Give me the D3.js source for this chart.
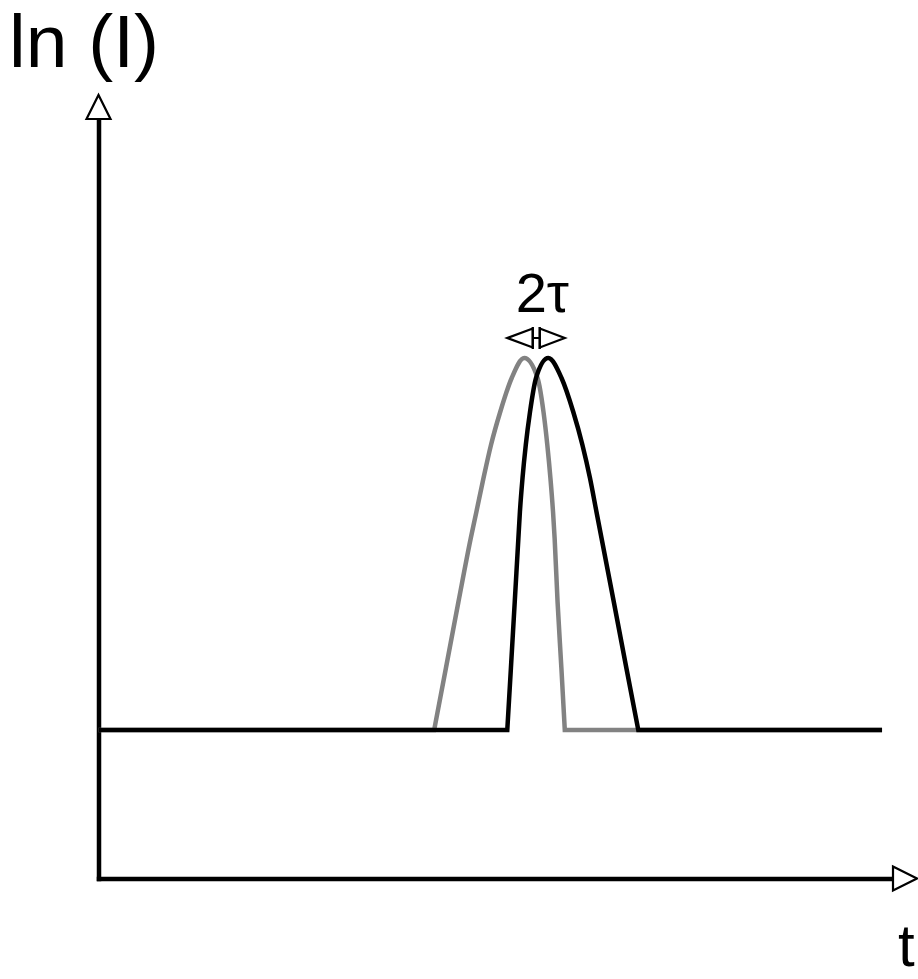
<!DOCTYPE html>
<html>
<head>
<meta charset="utf-8">
<script src="https://cdn.jsdelivr.net/npm/d3@7"></script>
<style>
  html, body { margin: 0; padding: 0; background: #ffffff; }
  svg { display: block; }
  text { font-family: "Liberation Sans", Arial, sans-serif; fill: #000; }
</style>
</head>
<body>
<svg id="chart" width="918" height="979"></svg>
<script>
// Signal level ln(I) against time t for two peaks separated by 2τ.
const baseLevel = 19.55;

// Earlier peak (grey)
const earlierTime  = [0, 42.25, 43.73, 45.30, 46.86, 47.56, 48.46, 49.40, 50.56, 52.01, 53.59,
                      55.26, 56.01, 56.49, 56.88, 57.21, 57.41, 57.78, 58.26, 58.69, 98.62];
const earlierLevel = [baseLevel, baseLevel, 27.72, 36.41, 44.83, 48.26, 52.73, 57.08, 61.42, 65.90, 68.53,
                      65.90, 61.42, 57.08, 52.73, 48.26, 44.83, 36.41, 27.72, baseLevel, baseLevel];

// Later peak (black)
const laterTime  = [0, 51.45, 51.91, 52.39, 52.85, 53.04, 53.37, 53.78, 54.31, 55.07, 56.61,
                    58.28, 59.76, 60.91, 61.86, 62.68, 63.31, 64.86, 66.44, 67.94, 98.62];
const laterLevel = [baseLevel, baseLevel, 27.72, 36.41, 44.83, 48.26, 52.73, 57.08, 61.42, 65.90, 68.53,
                    65.90, 61.42, 57.08, 52.73, 48.26, 44.83, 36.41, 27.72, baseLevel, baseLevel];

const axisLabels = { y: "ln (I)", x: "t" };
const shiftLabel = "2τ";

const svg = d3.select("#chart");

const x = d3.scaleLinear().domain([0, 100]).range([98.5, 893]);
const y = d3.scaleLinear().domain([0, 100]).range([878.5, 119]);

const lineW = 4.5;

// Axes: bare lines without ticks
svg.append("g")
  .attr("transform", `translate(0,${y(0)})`)
  .call(d3.axisBottom(x).tickValues([]).tickSizeOuter(0))
  .call(g => g.select(".domain").attr("stroke", "#000").attr("stroke-width", lineW).attr("stroke-linecap", "square"));

svg.append("g")
  .attr("transform", `translate(${x(0)},0)`)
  .call(d3.axisLeft(y).tickValues([]).tickSizeOuter(0))
  .call(g => g.select(".domain").attr("stroke", "#000").attr("stroke-width", lineW).attr("stroke-linecap", "square"));

// Hollow arrowheads at the axis ends
const head = 24, half = 12;
svg.append("path")
  .attr("d", `M${x(100)},${y(0) - half}L${x(100) + head},${y(0)}L${x(100)},${y(0) + half}Z`)
  .attr("fill", "#fff").attr("stroke", "#000").attr("stroke-width", 2.2);
svg.append("path")
  .attr("d", `M${x(0) - half},${y(100)}L${x(0)},${y(100) - head}L${x(0) + half},${y(100)}Z`)
  .attr("fill", "#fff").attr("stroke", "#000").attr("stroke-width", 2.2);

// Traces: straight baseline, smooth peak between its two feet
function tracePath(ts, vs) {
  const pts = ts.map((t, i) => [x(t), y(vs[i])]);
  const peak = pts.slice(1, pts.length - 1);
  const smooth = d3.line().curve(d3.curveMonotoneX)(peak);
  const first = pts[0], last = pts[pts.length - 1];
  return `M${first[0]},${first[1]}` + smooth.replace(/^M/, "L") + `L${last[0]},${last[1]}`;
}

svg.append("path")
  .attr("d", tracePath(earlierTime, earlierLevel))
  .attr("fill", "none").attr("stroke", "#828282").attr("stroke-width", lineW)
  .attr("stroke-linejoin", "miter");

svg.append("path")
  .attr("d", tracePath(laterTime, laterLevel))
  .attr("fill", "none").attr("stroke", "#000").attr("stroke-width", lineW)
  .attr("stroke-linejoin", "miter");

// Shift marker between the two maxima
const iPeakE = earlierLevel.indexOf(d3.max(earlierLevel));
const iPeakL = laterLevel.indexOf(d3.max(laterLevel));
const cx = (x(earlierTime[iPeakE]) + x(laterTime[iPeakL])) / 2;
const ay = y(d3.max(laterLevel)) - 20;
const gap = 3.5, tipL = 29, tipR = 28.5, hh = 9.5, bar = 11;

const marker = svg.append("g").attr("fill", "#fff").attr("stroke", "#000").attr("stroke-width", 2.2);
marker.append("path")
  .attr("d", `M${cx - gap},${ay - hh}L${cx - tipL},${ay}L${cx - gap},${ay + hh}Z`);
marker.append("path")
  .attr("d", `M${cx + gap},${ay - hh}L${cx + tipR},${ay}L${cx + gap},${ay + hh}Z`);
marker.append("path")
  .attr("fill", "none")
  .attr("d", `M${cx - gap},${ay - bar}V${ay + bar}M${cx + gap},${ay - bar}V${ay + bar}M${cx - gap},${ay}H${cx + gap}`);

svg.append("text")
  .attr("x", cx + 6).attr("y", ay - 26)
  .attr("text-anchor", "middle")
  .attr("font-size", 56)
  .text(shiftLabel);

// Axis titles
svg.append("text")
  .attr("x", 9).attr("y", 67)
  .attr("font-size", 75)
  .text(axisLabels.y);

svg.append("text")
  .attr("x", 898).attr("y", 966)
  .attr("font-size", 60)
  .text(axisLabels.x);
</script>
</body>
</html>
